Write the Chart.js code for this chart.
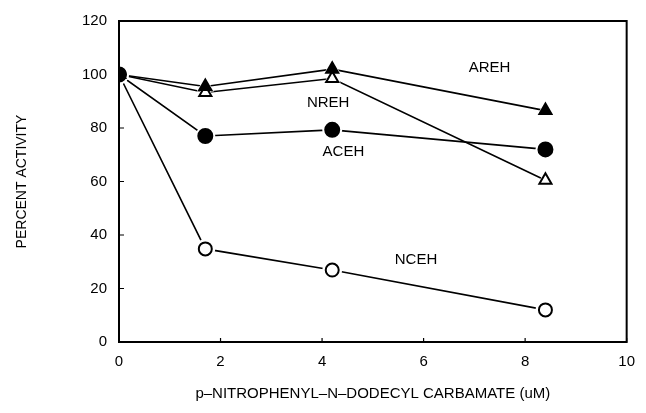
<!DOCTYPE html>
<html>
<head>
<meta charset="utf-8">
<script src="https://cdn.jsdelivr.net/npm/chart.js@4"></script>
<style>
html,body{margin:0;padding:0;background:#fff;}
#wrap{width:646px;height:413px;}
</style>
</head>
<body>
<div id="wrap"><canvas id="c" width="646" height="413"></canvas></div>
<script>
const concentrations = [0, 1.7, 4.2, 8.4];
const areh = [100, 95.5, 102, 86.5];
const nreh = [100, 93.3, 98.5, 60.5];
const aceh = [100, 77, 79.3, 72];
const nceh = [100, 34.8, 26.9, 12];
const seriesNames = ['AREH', 'NREH', 'ACEH', 'NCEH'];
const labelAnchorsX = [7.3, 4.12, 4.42, 5.85];
const labelAnchorsY = [102.5, 89.5, 71, 30.6];
const xTicks = [0, 2, 4, 6, 8, 10];
const yTicks = [0, 20, 40, 60, 80, 100, 120];

const FONT = "'Liberation Sans', Arial, sans-serif";

function pts(ys){ return concentrations.map((x,i)=>({x:x,y:ys[i]})); }

const frameAndTicks = {
  id:'frameAndTicks',
  afterDraw(chart){
    const {ctx, chartArea:a, scales:{x,y}} = chart;
    ctx.save();
    ctx.strokeStyle='#000';
    ctx.lineWidth=2;
    ctx.strokeRect(a.left, a.top, a.right-a.left, a.bottom-a.top);
    ctx.lineWidth=1.2;
    ctx.beginPath();
    x.ticks.forEach(t=>{const px=x.getPixelForValue(t.value); ctx.moveTo(px,a.bottom); ctx.lineTo(px,a.bottom-4);});
    y.ticks.forEach(t=>{const py=y.getPixelForValue(t.value); ctx.moveTo(a.left,py); ctx.lineTo(a.left+5,py);});
    ctx.stroke();
    ctx.fillStyle='#000';
    ctx.font='15px '+FONT;
    ctx.textAlign='center';
    ctx.textBaseline='middle';
    seriesNames.forEach((n,i)=>{
      ctx.fillText(n, x.getPixelForValue(labelAnchorsX[i]), y.getPixelForValue(labelAnchorsY[i]));
    });
    ctx.restore();
  }
};

function lineDs(ys){
  return {data: pts(ys), borderColor:'#000', borderWidth:1.6, pointRadius:0, showLine:true, fill:false, tension:0, order:3};
}
function haloDs(ys, style){
  return {data: pts(ys), showLine:false, pointStyle:style, pointRadius:10, pointBackgroundColor:'#fff', pointBorderColor:'#fff', pointBorderWidth:0, order:2};
}
function markDs(ys, style, filled){
  return {
    data: pts(ys), showLine:false,
    pointStyle: style,
    pointRadius: style==='triangle'?7:(filled?7:6.5),
    pointBackgroundColor: filled?'#000':'#fff',
    pointBorderColor:'#000', pointBorderWidth:2, order:1
  };
}

// first entry is drawn on top
const series = [
  [aceh,'circle',true],
  [nceh,'circle',false],
  [areh,'triangle',true],
  [nreh,'triangle',false]
];
const datasets = [];
series.forEach(s=>datasets.push(lineDs(s[0])));
series.forEach(s=>datasets.push(haloDs(s[0], s[1])));
series.forEach(s=>datasets.push(markDs(s[0], s[1], s[2])));

new Chart(document.getElementById('c'), {
  type:'scatter',
  data:{datasets},
  options:{
    responsive:false, animation:false,
    layout:{padding:{left:0, top:21, right:13, bottom:0}},
    plugins:{legend:{display:false}, tooltip:{enabled:false}},
    scales:{
      x:{
        type:'linear', min:0, max:10,
        afterBuildTicks(s){ s.ticks = xTicks.map(v=>({value:v})); },
        afterFit(s){ s.height = 71; },
        grid:{display:false, drawTicks:false},
        border:{display:false},
        ticks:{padding:11, color:'#000', font:{family:FONT, size:15}},
        title:{display:true, text:'p\u2013NITROPHENYL\u2013N\u2013DODECYL CARBAMATE (uM)', color:'#000', font:{family:FONT, size:15}, padding:{top:0,bottom:10}}
      },
      y:{
        type:'linear', min:0, max:120,
        afterBuildTicks(s){ s.ticks = yTicks.map(v=>({value:v})); },
        afterFit(s){ s.width = 119; },
        grid:{display:false, drawTicks:false},
        border:{display:false},
        ticks:{padding:12, color:'#000', font:{family:FONT, size:15}},
        title:{display:true, text:'PERCENT ACTIVITY', color:'#000', font:{family:FONT, size:14}, padding:{top:14,bottom:0}}
      }
    }
  },
  plugins:[frameAndTicks]
});
</script>
</body>
</html>
